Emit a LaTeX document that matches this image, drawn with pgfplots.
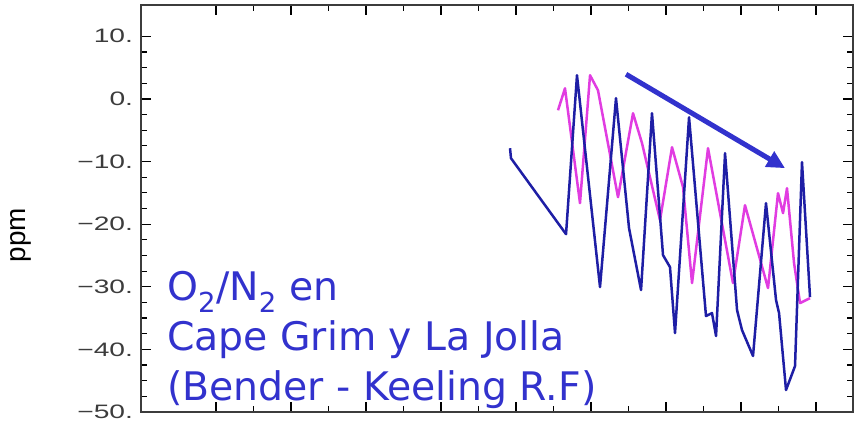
\documentclass[border=0pt]{standalone}
\usepackage{fontspec}
\setmainfont{Liberation Sans}
\newfontfamily\annfont{DejaVu Sans}
\usepackage{pgfplots}
\pgfplotsset{compat=1.18}
\usetikzlibrary{arrows.meta}
\definecolor{navyline}{RGB}{30,30,165}
\definecolor{magline}{RGB}{225,60,225}
\definecolor{annblue}{RGB}{50,50,205}
\definecolor{axgray}{RGB}{60,60,60}

\begin{document}
\begin{tikzpicture}
\path[use as bounding box] (-141bp,-17bp) rectangle (713bp,412bp);
\begin{axis}[
  scale only axis, width=712bp, height=407bp,
  xmin=0, xmax=9.493, ymin=-50, ymax=15,
  xtick={1,...,9}, xticklabels={},
  minor x tick num=1,
  ytick={-50,-40,...,10},
  yticklabels={−50.,−40.,−30.,−20.,−10.,0.,10.},
  minor y tick num=3,
  tick align=inside,
  major tick length=10bp, minor tick length=6bp,
  every tick/.style={black, line width=1.2bp},
  axis line style={axgray, line width=1.4bp},
  yticklabel style={font=\fontsize{19.5}{19.5}\selectfont, text=axgray, xscale=1.45, xshift=-2bp},
  ylabel={ppm},
  ylabel style={font=\fontsize{28}{28}\selectfont, at={(axis description cs:-0.1685,0.435)}, anchor=center, rotate=0},
  clip=false,
]
\addplot[magline, line width=2.5bp, line join=round] coordinates {
(5.56,-1.81) (5.653,1.70) (5.853,-16.65) (5.987,3.78) (6.093,1.38)
(6.36,-15.69) (6.56,-2.29) (6.68,-7.07) (6.92,-19.36) (7.08,-7.71)
(7.227,-14.1) (7.347,-29.41) (7.56,-7.87) (7.893,-29.41) (8.053,-16.97)
(8.36,-30.21) (8.493,-15.05) (8.56,-18.24) (8.613,-14.26) (8.707,-26.22)
(8.787,-32.61) (8.92,-31.81)
};
\addplot[navyline, line width=2.5bp, line join=round] coordinates {
(4.92,-7.87) (4.933,-9.47) (5.667,-21.6) (5.813,3.78) (6.12,-30.05)
(6.333,0.11) (6.507,-20.64) (6.667,-30.53) (6.813,-2.29) (6.96,-24.95)
(7.053,-26.86) (7.12,-37.39) (7.307,-2.93) (7.533,-34.68) (7.613,-34.2)
(7.667,-37.87) (7.787,-8.67) (7.947,-33.72) (8.013,-36.91) (8.16,-41.06)
(8.333,-16.65) (8.467,-32.13) (8.507,-34.2) (8.6,-46.49) (8.72,-42.66)
(8.813,-10.11) (8.92,-31.65)
};
\draw[annblue, line width=5bp, -{Triangle[length=18bp,width=17bp]}]
  (axis cs:6.467,3.94) -- (axis cs:8.587,-11.06);
\node[annblue, anchor=base west, inner sep=0pt, font=\annfont\fontsize{39.5}{40}\selectfont]
  at (axis cs:0.347,-32.13) {O\textsubscript{2}/N\textsubscript{2} en};
\node[annblue, anchor=base west, inner sep=0pt, font=\annfont\fontsize{39.5}{40}\selectfont]
  at (axis cs:0.347,-40.11) {Cape Grim y La Jolla};
\node[annblue, anchor=base west, inner sep=0pt, font=\annfont\fontsize{39.5}{40}\selectfont]
  at (axis cs:0.347,-48.09) {(Bender - Keeling R.F)};
\end{axis}
\end{tikzpicture}
\end{document}
